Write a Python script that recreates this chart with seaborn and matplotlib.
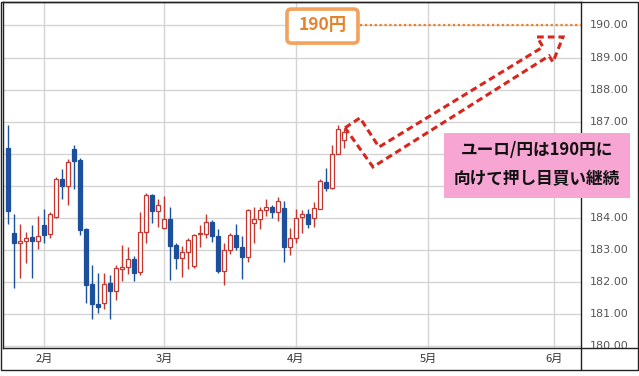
import numpy as np
import pandas as pd
import matplotlib
matplotlib.use("Agg")
import matplotlib.pyplot as plt
import seaborn as sns
from matplotlib.patches import Rectangle, FancyBboxPatch, Polygon
from matplotlib.lines import Line2D

# ---------------- data ----------------
start_date = "2026-01-23"
opens = [186.19, 183.54, 183.22, 183.28, 183.41, 183.28, 183.77, 183.49, 184.04, 185.20,
         185.00, 186.16, 185.80, 183.65, 181.93, 181.31, 181.36, 181.96, 181.72, 182.42,
         182.48, 182.73, 182.33, 183.57, 184.71, 184.22, 183.70, 183.96, 183.15, 182.76,
         182.94, 182.52, 183.49, 183.49, 183.89, 183.44, 182.35, 183.00, 183.48, 183.11,
         182.79, 183.83, 183.96, 184.25, 184.35, 184.20, 184.32, 183.11, 183.39, 184.04,
         184.13, 183.99, 184.29, 185.13, 184.92, 186.00, 186.42]
highs = [186.89, 184.11, 183.80, 183.57, 183.77, 184.06, 184.29, 184.20, 185.29, 185.52,
         185.83, 186.27, 185.88, 183.70, 182.55, 182.30, 182.30, 182.22, 182.53, 183.17,
         183.11, 182.82, 184.20, 184.79, 184.74, 184.58, 184.68, 184.35, 183.23, 183.13,
         183.39, 183.49, 183.77, 184.11, 183.94, 183.67, 183.21, 183.54, 183.82, 183.44,
         184.29, 184.35, 184.35, 184.60, 184.42, 184.66, 184.53, 183.68, 184.27, 184.25,
         184.29, 184.50, 185.20, 185.57, 186.26, 186.89, 186.78]
lows = [183.80, 181.81, 182.12, 182.59, 182.12, 183.05, 183.23, 183.39, 183.99, 184.58,
        184.39, 184.89, 183.47, 181.36, 180.84, 181.05, 181.17, 180.84, 181.46, 182.04,
        182.26, 182.04, 182.21, 183.23, 183.85, 183.73, 183.65, 182.07, 182.40, 182.17,
        182.42, 182.43, 183.10, 183.39, 183.25, 182.28, 181.91, 182.87, 183.00, 182.11,
        182.63, 183.23, 183.67, 184.06, 184.00, 183.91, 182.63, 182.85, 183.23, 183.54,
        183.68, 183.73, 184.27, 184.84, 184.89, 185.98, 186.19]
closes = [184.22, 183.21, 183.29, 183.39, 183.29, 183.43, 183.46, 184.14, 185.20, 185.00,
          185.76, 185.77, 183.63, 181.91, 181.33, 181.24, 181.95, 181.72, 182.45, 182.48,
          182.73, 182.30, 183.57, 184.71, 184.22, 184.42, 183.96, 183.13, 182.76, 182.94,
          183.30, 183.48, 183.53, 183.88, 183.44, 182.35, 183.00, 183.48, 183.11, 182.79,
          184.25, 183.96, 184.25, 184.35, 184.19, 184.53, 183.11, 183.39, 184.01, 184.13,
          183.82, 184.32, 185.15, 184.92, 186.00, 186.76, 186.68]
calendar_end = "2026-06-30"
month_numbers = [2, 3, 4, 5, 6]
month_labels = ["2月", "3月", "4月", "5月", "6月"]
y_ticks = [180, 181, 182, 183, 184, 185, 186, 187, 188, 189, 190]
target_price = 190
target_label = "190円"
comment_lines = ["ユーロ/円は190円に", "向けて押し目買い継続"]

# ---------------- style ----------------
sns.set_theme(style="white")
plt.rcParams['font.family'] = ['Noto Sans CJK JP', 'DejaVu Sans']

W, H = 639, 376
fig = plt.figure(figsize=(W / 100, H / 100), dpi=100)
fig.patch.set_facecolor("white")

def fx(px):
    return px / W

def fy(py):
    return 1 - py / H

RED = "#c8352c"
BLUE = "#1c4f9c"
FRAME = "#222222"
GRID = "#d4d4d4"

ax = fig.add_axes([fx(3), fy(348), fx(581) - fx(3), fy(2) - fy(348)])
axr = fig.add_axes([fx(581), fy(348), fx(638) - fx(581), fy(2) - fy(348)])
ax.set_zorder(3)
axr.set_zorder(1)

df = pd.DataFrame({
    "date": pd.bdate_range(start_date, periods=len(opens)),
    "open": opens, "high": highs, "low": lows, "close": closes,
})
df["idx"] = np.arange(len(df))
df["up"] = df["close"] >= df["open"]

cal = pd.Series(pd.bdate_range(start_date, calendar_end))
month_idx = [int(cal[cal.dt.month == m].index[0]) for m in month_numbers]

ylo, yhi = 179.95, 190.73
xlo, xhi = -0.83, 95.5

# wicks
wick_colors = [RED if u else BLUE for u in df["up"]]
ax.vlines(df["idx"], df["low"], df["high"], colors=wick_colors, lw=1.0, zorder=2)
# bodies
body_bottom = np.minimum(df["open"], df["close"])
body_h = np.maximum(np.abs(df["close"] - df["open"]), 0.03)
faces = ["white" if u else BLUE for u in df["up"]]
ax.bar(df["idx"], body_h, bottom=body_bottom, width=0.62, color=faces,
       edgecolor=wick_colors, linewidth=0.9, zorder=3)

ax.set_xlim(xlo, xhi)
ax.set_ylim(ylo, yhi)
ax.set_yticks(y_ticks)
ax.tick_params(axis="y", length=0, labelleft=False, labelright=False)
ax.set_xticks(month_idx, month_labels)
ax.tick_params(axis="x", length=0, pad=4, labelsize=8, labelcolor="#333333")
ax.grid(True, color=GRID, lw=1.0, zorder=0)
ax.set_axisbelow(True)
for s in ax.spines.values():
    s.set_visible(True)
    s.set_color(FRAME)
    s.set_linewidth(1.0)

# pink comment box extent (annotation)
box_x0, box_w = 72.67, 31.0
box_y0, box_h = 184.63, 2.02

# right price panel
axr.set_xlim(0, 1)
axr.set_ylim(ylo, yhi)
axr.set_xticks([])
axr.set_yticks([])
axr.patch.set_facecolor("white")
for k, s in axr.spines.items():
    s.set_visible(k == "bottom")
    s.set_color(FRAME)
    s.set_linewidth(1.0)
for v in y_ticks:
    if box_y0 < v < box_y0 + box_h:
        continue  # hidden under the comment box in the reference
    axr.text(0.16, v, f"{v:.2f}", ha="left", va="center", fontsize=8,
             color="#555555", family="DejaVu Sans", clip_on=True)

# outer frame and bottom separator
fig.add_artist(Rectangle((fx(1), fy(370)), fx(638) - fx(1), fy(2) - fy(370),
                         transform=fig.transFigure, fill=False, ec=FRAME, lw=1.0, zorder=10))
fig.add_artist(Line2D([fx(581), fx(581)], [fy(370), fy(348)],
                      transform=fig.transFigure, color=FRAME, lw=1.0))

# 190円 target box and dotted line
ORANGE_T = "#e8822a"
ORANGE_B = "#f2a25c"
ax.add_patch(FancyBboxPatch((46.5, 189.45), 11.83, 1.06,
                            boxstyle="round,pad=0,rounding_size=0.7",
                            mutation_aspect=6 / 32.1, fc="white", ec=ORANGE_B,
                            lw=2.6, zorder=6, clip_on=False))
ax.text(52.4, target_price, target_label, ha="center", va="center", fontsize=12.5,
        fontweight="bold", color=ORANGE_T, zorder=7)
ax.plot([58.7, xhi], [target_price, target_price], color=ORANGE_T, lw=1.6,
        ls=(0, (1, 1.2)), dash_capstyle="butt", zorder=5)

# red dashed zig-zag arrow (annotation shape)
arrow_x = [56.17, 58.67, 61.83, 89.17, 88.17, 92.5, 90.83, 90.17, 60.83]
arrow_y = [186.81, 187.12, 186.21, 189.33, 189.64, 189.64, 188.86, 189.05, 185.59]
ax.add_patch(Polygon(list(zip(arrow_x, arrow_y)), closed=True, fill=False,
                     ec="#d9261c", lw=2.2, ls=(0, (2.2, 1.3)), joinstyle="miter",
                     zorder=8))

# pink comment box
ax.add_patch(Rectangle((box_x0, box_y0), box_w, box_h, fc="#f7a6d4", ec="none",
                       zorder=20, clip_on=False))
ax.text(88.2, 186.13, comment_lines[0], ha="center", va="center", fontsize=12,
        fontweight="bold", color="#111111", zorder=21, clip_on=False)
ax.text(88.2, 185.2, comment_lines[1], ha="center", va="center", fontsize=12,
        fontweight="bold", color="#111111", zorder=21, clip_on=False)

fig.savefig("out.png", dpi=100, facecolor="white")
